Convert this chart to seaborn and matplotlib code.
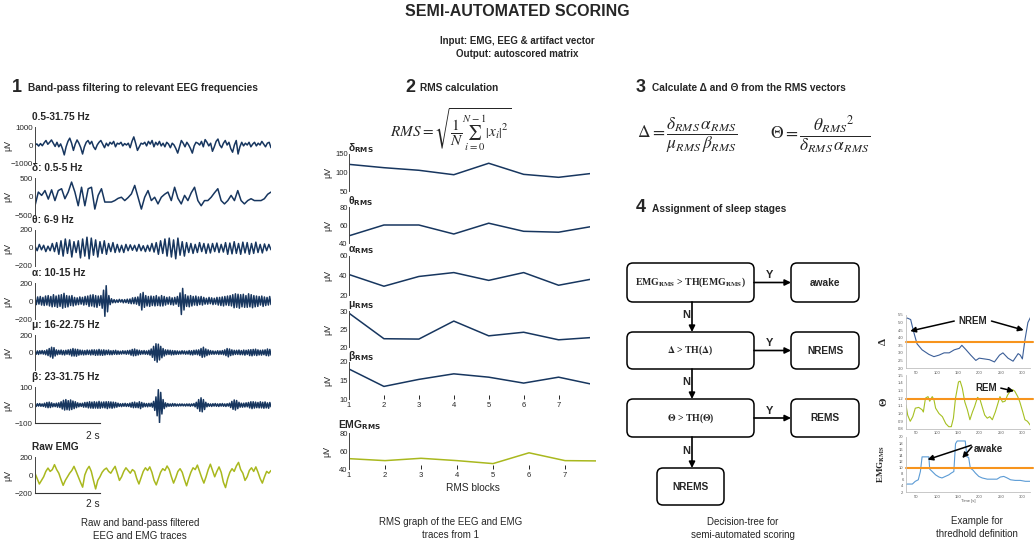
# overview figure for the semi-automated sleep scoring pipeline
import numpy as np
import matplotlib
matplotlib.use("Agg")
import matplotlib.pyplot as plt
from matplotlib.patches import FancyBboxPatch
from matplotlib.ticker import MultipleLocator, FormatStrFormatter
import seaborn as sns

# ---------------- values ----------------
TRACE_SECONDS = 7.26

broad_uv = [0, 60, -60, 80, -40, 120, 250, 40, 150, 280,
            100, -80, 150, -100, 60, -200, -550, -100, 200, 380,
            100, -300, 50, 280, 100, -150, -500, -100, 150, 250,
            50, 200, -100, -250, 0, 150, 250, 50, -150, 100,
            -50, 150, 50, 200, -100, 100, 50, 150, -50, 80,
            0, 100, -150, 200, 450, 100, -300, -100, 100, 50,
            150, -50, 200, 50, 250, -100, 150, 0, 200, -50,
            100, -100, 150, 50, -150, 100, 0, -200, -450, -100,
            250, 100, -100, 150, 0, -200, -450, -50, 150, 100,
            0, 200, -100, 300, 150, -50, 100, -350, -100, 200,
            330, 0, -150, 100, 250, 0, 150, -200, -400, 0,
            250, -500, -100, 150, -50, 100, 0, 150, -100, 50,
            150, -50, 100, 0, 200, 50, -100, 100, 150, -150]

delta_uv = [-250, 120, 30, 160, -70, 180, -110, 160, 210, -60,
            120, 390, 120, -250, 250, -250, 210, 250, -340, 30,
            210, -150, -150, -150, -110, -50, -20, -110, -30, 70,
            300, -20, -340, -20, 160, -110, -20, -200, -20, 60,
            120, -110, 250, -50, -200, 30, -110, 100, 250, -110,
            -250, -110, -110, -20, 100, 210, -110, -200, -110, 30,
            -110, 160, -110, -200, -110, -60, -110, -110, -110, -60,
            60, 120]

theta_uv = [20, -30, 40, -20, 30, -40, 20, -30, 50, -40, 60, -70,
            80, -90, 100, -60, 90, -100, 70, -50, 80, -110, 100, -90,
            120, -120, 110, -80, 90, -100, 70, -60, 80, -70,
            50, -40, 60, -50, 40, -45, 30, -50, 40, -30, 35,
            -25, 30, -35, 40, -30, 25, -40, 30, -35, 50, -45, 60, -70, 80, -60,
            100, -90, 110, -100, 90, -120, 110, -80, 70, -90, 60, -50,
            50, -60, 40, -50, 60, -40, 50, -60, 45, -55, 50, -40, 55, -50, 40, -45,
            60, -70, 55, -65, 70, -60, 50, -70, 65, -55, 60, -70, 50, -60, 65, -50,
            40, -55, 45, -30, 40, -20]

alpha_uv = [30, -40, 45, -35, 50, -45, 40, -50, 55, -45,
            60, -55, 50, -65, 70, -60, 55, -70, 65, -60,
            70, -80, 85, -70, 60, -65, 55, -50, 60, -55,
            40, -45, 35, -40, 45, -35, 40, -45, 50, -40,
            55, -60, 65, -55, 70, -65, 60, -70, 55, -50,
            60, -80, 120, -170, 170, -120, 60, -40, 25, -20,
            15, -18, 12, -15, 18, -12, 15, -20, 15, -18,
            20, -25, 22, -30, 35, -30, 40, -35, 45, -50,
            80, -100, 95, -70, 60, -55, 50, -60, 55, -50,
            50, -55, 60, -50, 45, -55, 60, -55, 50, -45,
            40, -35, 45, -40, 35, -45, 40, -35, 50, -60,
            90, -150, 140, -100, 70, -60, 55, -65, 60, -55,
            50, -45, 55, -50, 45, -40, 50, -45, 40, -35,
            30, -35, 40, -30, 35, -40, 30, -35, 40, -45,
            40, -50, 45, -55, 50, -45, 55, -50, 60, -55,
            70, -75, 80, -70, 75, -80, 70, -65, 75, -70,
            60, -70, 80, -65, 70, -75, 60, -65, 55, -60,
            50, -45, 55, -60, 45, -50, 40, -45, 50, -40]

mu_uv = [15, -20, 18, -22, 20, -15, 22, -18, 20, -25,
         30, -35, 45, -50, 60, -65, 55, -40, 30, -25,
         25, -20, 28, -25, 22, -28, 25, -20, 30, -25,
         35, -40, 45, -40, 38, -42, 35, -30, 28, -25,
         25, -28, 22, -25, 28, -22, 25, -28, 30, -25,
         30, -32, 28, -30, 35, -30, 28, -32, 30, -28,
         25, -22, 28, -25, 20, -25, 22, -20, 25, -22,
         18, -20, 15, -18, 20, -15, 18, -20, 22, -18,
         25, -30, 35, -38, 40, -35, 30, -28, 25, -22,
         20, -18, 22, -20, 18, -22, 25, -30, 40, -55,
         70, -90, 100, -110, 95, -85, 70, -60, 45, -40,
         30, -25, 28, -22, 25, -28, 22, -25, 20, -22,
         18, -20, 15, -18, 20, -16, 18, -20, 15, -18,
         22, -25, 20, -28, 25, -22, 28, -25, 30, -35,
         45, -55, 60, -50, 40, -35, 30, -25, 22, -20,
         18, -20, 15, -18, 20, -22, 18, -20, 22, -25,
         30, -35, 45, -50, 40, -35, 30, -28, 25, -22,
         25, -22, 28, -25, 22, -25, 28, -30, 25, -22,
         30, -35, 32, -38, 35, -30, 38, -35, 30, -28,
         25, -30, 28, -25, 30, -35, 40, -38, 35, -30]

beta_uv = [6, -8, 7, -6, 8, -7, 6, -8, 10, -12,
           14, -15, 16, -14, 12, -10, 8, -9, 10, -12,
           12, -14, 18, -22, 26, -28, 30, -26, 24, -28,
           28, -25, 22, -20, 18, -15, 12, -10, 9, -8,
           10, -12, 14, -12, 15, -16, 18, -17, 16, -18,
           18, -17, 16, -18, 20, -18, 16, -15, 17, -16,
           18, -20, 18, -16, 17, -18, 16, -15, 14, -12,
           10, -8, 7, -9, 8, -7, 9, -8, 7, -8,
           10, -12, 14, -15, 16, -14, 12, -15, 18, -20,
           14, -12, 10, -9, 8, -10, 9, -8, 10, -12,
           20, -30, 45, -60, 85, -98, 70, -50, 30, -20,
           12, -10, 8, -7, 6, -7, 8, -6, 7, -6,
           5, -6, 6, -5, 6, -5, 5, -6, 6, -5,
           6, -7, 6, -5, 8, -10, 15, -20, 30, -35,
           40, -38, 30, -25, 15, -10, 8, -7, 6, -8,
           7, -6, 8, -7, 6, -8, 7, -6, 8, -7,
           6, -8, 7, -6, 10, -14, 20, -24, 28, -28,
           25, -20, 15, -12, 10, -12, 10, -11, 12, -10,
           14, -16, 18, -20, 18, -17, 16, -15, 14, -16,
           18, -16, 15, -18, 17, -16, 12, -18, 14, -10]

emg_uv = [20, -40, -100, -60, -20, 40, 77, 40, 60, 115,
          60, 20, -50, -115, -60, -20, 20, 50, 96, 40,
          -20, -80, -135, 0, 60, 96, 40, -60, -155, -60,
          -20, 30, 60, 77, 40, 20, 60, 96, 20, -60,
          -20, 40, 80, 50, 20, 60, 40, -40, -100, -30,
          40, 80, 50, 90, 30, -60, -110, -40, 30, 70,
          50, 100, 60, -20, -90, -30, 40, 70, 30, -50,
          -120, -40, 30, 80, 60, 110, 40, -30, -90, -20,
          60, 120, 50, -20, 40, 90, 30, -80, -140, -40,
          30, 70, 40, 100, 140, 60, 20, -60, -20, 50,
          80, 40, 90, 30, -40, -90, -20, 40, 20, 50]

# RMS per block
rms_blocks = [1, 2, 3, 4, 5, 6, 7, 7.9]
emg_blocks = [1, 2, 3, 4, 5, 6, 7, 7.86]
delta_rms = [122, 113, 106, 94, 125, 95, 87, 97]
theta_rms = [48, 60, 60, 50, 62, 53, 52, 58]
alpha_rms = [41, 29, 39, 43, 35, 43, 30, 36]
mu_rms = [29.4, 22.3, 22.2, 27.2, 23.1, 24.1, 22.0, 22.6]
beta_rms = [18.1, 13.4, 15.3, 16.8, 15.9, 14.3, 15.9, 14.1]
emg_rms = [51.5, 49.3, 51.9, 49.3, 46, 58, 49.3, 49]

# threshold example (time in s)
d_time = [26, 29, 37, 44, 52, 64, 80, 92, 104, 116, 128, 140, 152, 158, 168,
          179, 191, 199, 211, 223, 235, 247, 255, 267, 279, 291, 296, 301, 307, 314, 322]
d_ratio = [5.25, 5.3, 5.2, 4.4, 3.6, 3.2, 2.9, 2.75, 2.85, 3.0, 3.0, 3.2, 3.3, 3.5, 3.2,
           2.85, 2.5, 2.65, 2.6, 2.55, 2.4, 2.85, 3.0, 2.65, 2.45, 2.95, 2.85, 2.6, 3.85, 5.0, 5.45]
t_time = [26, 30, 36, 42, 48, 56, 64, 67, 72, 78, 82, 88, 92, 96, 104, 112, 120, 127, 133, 138,
          143, 150, 154, 159, 165, 171, 177, 183, 188, 195, 201, 207, 212, 218, 224, 230, 237,
          242, 248, 254, 260, 266, 271, 278, 283, 290, 295, 302, 307, 313, 321]
t_ratio = [1.11, 0.98, 0.90, 0.96, 1.07, 1.08, 1.05, 1.02, 1.20, 1.22, 1.16, 1.22, 1.18, 1.07,
           1.00, 0.96, 0.87, 0.83, 0.83, 0.94, 1.20, 1.41, 1.42, 1.33, 1.15, 1.05, 0.92, 1.02,
           1.09, 1.21, 1.18, 1.07, 0.98, 0.94, 0.96, 0.92, 1.02, 1.11, 1.22, 1.15, 1.16, 1.24,
           1.28, 1.31, 1.29, 1.22, 1.15, 1.02, 0.92, 0.90, 0.84]
e_time = [26, 29, 41, 48, 55, 60, 64, 72, 80, 82, 88, 96, 104, 111, 119, 127, 133, 139, 143,
          147, 166, 170, 174, 178, 184, 190, 198, 206, 218, 229, 241, 249, 257, 265, 273, 284,
          296, 308, 320]
e_level = [4.5, 4.6, 4.6, 5.5, 6.0, 8.7, 13.5, 13.5, 13.5, 9.5, 8.7, 7.6, 6.9, 6.6, 7.1, 7.6,
           8.2, 8.7, 17.8, 18.7, 18.7, 13.5, 13.3, 9.8, 9.2, 8.2, 7.1, 6.6, 6.2, 6.2, 6.2, 6.9,
           7.1, 6.6, 6.0, 5.8, 5.8, 5.5, 5.5]
TH_DELTA = 3.75
TH_THETA = 1.19
TH_EMG = 10

# ---------------- style ----------------
NAVY = "#17365f"
OLIVE = "#a9b81e"
ORANGE = "#f7941d"
XL_BLUE = "#3c5f98"
XL_GREEN = "#a6c021"
XL_LIGHT = "#5b9bd5"

sns.set_theme(style="white")
plt.rcParams["font.family"] = ["Liberation Sans", "DejaVu Sans"]

W, H = 1034, 542
fig = plt.figure(figsize=(W / 100, H / 100), dpi=100)

ov = fig.add_axes([0, 0, 1, 1], zorder=5)
ov.set_xlim(0, W)
ov.set_ylim(H, 0)
ov.axis("off")
ov.patch.set_alpha(0)


def px_axes(left, top, right, bottom):
    ax = fig.add_axes([left / W, 1 - bottom / H, (right - left) / W, (bottom - top) / H])
    ax.patch.set_visible(False)
    return ax


def label(x, y, s, size=7, weight="normal", ha="left", **kw):
    ov.text(x, y, s, fontsize=size, fontweight=weight, ha=ha, va="center", **kw)


# ---------------- titles ----------------
label(517, 12, "SEMI-AUTOMATED SCORING", 11.5, "bold", "center")
label(517, 41, "Input: EMG, EEG & artifact vector", 7, "bold", "center")
label(517, 54, "Output: autoscored matrix", 7, "bold", "center")

label(12, 87, "1", 13, "bold")
label(28, 88, "Band-pass filtering to relevant EEG frequencies", 7.3, "bold")
label(405, 87, "2", 13, "bold")
label(420, 88, "RMS calculation", 7.3, "bold")
label(636, 87, "3", 13, "bold")
label(652, 88, "Calculate \u0394 and \u0398 from the RMS vectors", 7.3, "bold")
label(636, 208, "4", 13, "bold")
label(652, 209, "Assignment of sleep stages", 7.3, "bold")


# ---------------- panel 1: traces ----------------
def trace(top, bottom, values, lim, ticklabels, color, name, bar=False):
    ax = px_axes(35, top, 271, bottom)
    t = np.arange(len(values)) * TRACE_SECONDS / (len(values) - 1)
    sns.lineplot(x=t, y=values, ax=ax, color=color, linewidth=1.1, estimator=None)
    ax.set_xlim(0, TRACE_SECONDS)
    ax.set_ylim(-lim, lim)
    ax.set_yticks([-lim, 0, lim])
    ax.set_yticklabels(ticklabels)
    ax.set_xticks([])
    ax.set_xlabel("")
    for s in ["top", "right"]:
        ax.spines[s].set_visible(False)
    if bar:
        ax.spines["bottom"].set_bounds(0, 2)
        ax.spines["bottom"].set_color("#333333")
        ax.spines["bottom"].set_linewidth(0.8)
    else:
        ax.spines["bottom"].set_visible(False)
    ax.spines["left"].set_color("#444444")
    ax.spines["left"].set_linewidth(0.7)
    ax.tick_params(axis="y", direction="in", length=2.5, width=0.7, labelsize=5.8, pad=1.5)
    ax.set_ylabel("\u03bcV", fontsize=6.5, labelpad=0)
    ax.yaxis.set_label_coords(-23 / 236, 0.5)
    label(32, top - 10, name, 7.3, "bold")
    return ax


M = "\u2212"
trace(127, 163, broad_uv, 1000, [M + "1000", "0", "1000"], NAVY, "0.5-31.75 Hz")
trace(178, 215, delta_uv, 500, [M + "500", "0", "500"], NAVY, "\u03b4: 0.5-5 Hz")
trace(230, 266, theta_uv, 200, [M + "200", "0", "200"], NAVY, "\u03b8: 6-9 Hz")
trace(283, 319, alpha_uv, 200, [M + "200", "0", "200"], NAVY, "\u03b1: 10-15 Hz")
trace(335, 370, mu_uv, 200, ["", "0", "200"], NAVY, "\u03bc: 16-22.75 Hz")
trace(387, 423, beta_uv, 100, [M + "100", "0", "100"], NAVY, "\u03b2: 23-31.75 Hz", bar=True)
trace(457, 493, emg_uv, 200, [M + "200", "0", "200"], OLIVE, "Raw EMG", bar=True)
label(100, 436, "2 s", 7.3, ha="right")
label(100, 504, "2 s", 7.3, ha="right")
label(140, 523, "Raw and band-pass filtered", 7, ha="center")
label(140, 536, "EEG and EMG traces", 7, ha="center")


# ---------------- panel 2: RMS ----------------
label(451, 130, r"$RMS=\sqrt{\dfrac{1}{N}\sum_{i=0}^{N-1}\left|x_i\right|^2}$", 11,
      ha="center", math_fontfamily="stix")


def rms_axes(top, bottom, right, blocks, values, lo, hi, color, name, name_x, name_y, with_x):
    ax = px_axes(349, top, right, bottom)
    sns.lineplot(x=blocks, y=values, ax=ax, color=color, linewidth=1.1, estimator=None)
    ax.set_xlim(1, blocks[-1])
    ax.set_ylim(lo, hi)
    ax.set_yticks([lo, (lo + hi) / 2, hi])
    ax.yaxis.set_major_formatter(FormatStrFormatter("%d"))
    for s in ["top", "right", "bottom"]:
        ax.spines[s].set_visible(False)
    ax.spines["left"].set_color("#444444")
    ax.spines["left"].set_linewidth(0.7)
    ax.tick_params(axis="y", direction="in", length=2.5, width=0.7, labelsize=5.5, pad=1)
    if with_x:
        ax.set_xticks([1, 2, 3, 4, 5, 6, 7])
        ax.tick_params(axis="x", direction="in", length=3, width=0.7, labelsize=5.5, pad=2,
                       bottom=True)
    else:
        ax.set_xticks([])
    ax.set_xlabel("")
    ax.set_ylabel("\u03bcV", fontsize=6.5)
    ax.yaxis.set_label_coords(-17 / 241, 0.5)
    ov.text(name_x, name_y, name, fontsize=7.5, fontweight="bold", va="center",
            math_fontfamily="dejavusans")
    return ax


SUB = r"$_{\mathbf{RMS}}$"
rms_axes(154, 191, 590, rms_blocks, delta_rms, 50, 150, NAVY, "\u03b4" + SUB, 348, 148, False)
rms_axes(207, 243, 590, rms_blocks, theta_rms, 40, 80, NAVY, "\u03b8" + SUB, 348, 201, False)
rms_axes(256, 295, 590, rms_blocks, alpha_rms, 20, 60, NAVY, "\u03b1" + SUB, 348, 250, False)
rms_axes(311, 347, 590, rms_blocks, mu_rms, 20, 30, NAVY, "\u03bc" + SUB, 348, 305, False)
rms_axes(362, 399, 590, rms_blocks, beta_rms, 10, 20, NAVY, "\u03b2" + SUB, 348, 356, True)
ax_e = rms_axes(433, 469, 596, emg_blocks, emg_rms, 40, 80, OLIVE, "EMG" + SUB, 338, 425, True)
ax_e.set_xlabel("RMS blocks", fontsize=7.3, labelpad=3)
label(451, 522, "RMS graph of the EEG and EMG", 7, ha="center")
label(451, 535, "traces from 1", 7, ha="center")


# ---------------- panel 3: ratios ----------------
label(687, 135, r"$\Delta=\dfrac{\delta_{RMS}\,\alpha_{RMS}}{\mu_{RMS}\,\beta_{RMS}}$", 12.5,
      ha="center", math_fontfamily="stix")
label(820, 135, r"$\Theta=\dfrac{{\theta_{RMS}}^{2}}{\delta_{RMS}\,\alpha_{RMS}}$", 12.5,
      ha="center", math_fontfamily="stix")


# ---------------- panel 4: decision tree ----------------
def box(x0, y0, x1, y1, text, serif):
    ov.add_patch(FancyBboxPatch((x0, y0), x1 - x0, y1 - y0,
                                boxstyle="round,pad=0,rounding_size=6",
                                fc="white", ec="black", lw=1.1, zorder=2))
    if serif:
        ov.text((x0 + x1) / 2, (y0 + y1) / 2, text, fontsize=7, fontweight="bold",
                family="Liberation Serif", math_fontfamily="stix", ha="center", va="center",
                zorder=3)
    else:
        ov.text((x0 + x1) / 2, (y0 + y1) / 2, text, fontsize=7.3, fontweight="bold",
                ha="center", va="center", zorder=3)


def arrow(x0, y0, x1, y1):
    ov.annotate("", xy=(x1, y1), xytext=(x0, y0),
                arrowprops=dict(arrowstyle="-|>", color="black", lw=1.2,
                                mutation_scale=9, shrinkA=0, shrinkB=0))


rows = [(263, 302), (332, 369), (399, 437)]
conds = [r"EMG$_{\mathbf{RMS}}$ > TH(EMG$_{\mathbf{RMS}}$)",
         r"$\mathbf{\Delta}$ > TH($\mathbf{\Delta}$)",
         r"$\mathbf{\Theta}$ > TH($\mathbf{\Theta}$)"]
results = ["awake", "NREMS", "REMS"]
for (y0, y1), cond, res in zip(rows, conds, results):
    yc = (y0 + y1) / 2
    box(627, y0, 754, y1, cond, True)
    box(791, y0, 859, y1, res, False)
    arrow(754, yc, 791, yc)
    label(770, yc - 7, "Y", 8, "bold", "center")
box(657, 468, 724, 505, "NREMS", False)
for y0, y1 in [(302, 332), (369, 399), (437, 468)]:
    arrow(692, y0, 692, y1)
    label(686, (y0 + y1) / 2 - 2, "N", 8, "bold", "center")
label(743, 522, "Decision-tree for", 7, ha="center")
label(743, 535, "semi-automated scoring", 7, ha="center")


# ---------------- panel 5: threshold example ----------------
def excel_axes(top, bottom, times, values, color, th, lo, hi, step, fmt):
    ax = px_axes(906, top, 1030, bottom)
    sns.lineplot(x=times, y=values, ax=ax, color=color, linewidth=0.8, estimator=None)
    ax.axhline(th, color=ORANGE, lw=1.5, xmin=0, xmax=1.025, clip_on=False)
    ax.set_xlim(26, 319)
    ax.set_ylim(lo, hi)
    ax.yaxis.set_major_locator(MultipleLocator(step))
    ax.yaxis.set_major_formatter(FormatStrFormatter(fmt))
    ax.set_xticks([50, 100, 150, 200, 250, 300])
    for s in ["top", "right"]:
        ax.spines[s].set_visible(False)
    for s in ["left", "bottom"]:
        ax.spines[s].set_color("#bfbfbf")
        ax.spines[s].set_linewidth(0.6)
    ax.tick_params(labelsize=3, colors="#595959", length=1, width=0.4, pad=0.8)
    ax.set_xlabel("")
    return ax


arw = dict(arrowstyle="-|>", color="black", lw=1.1, mutation_scale=8, shrinkA=0, shrinkB=0)

ax_d = excel_axes(315, 368, d_time, d_ratio, XL_BLUE, TH_DELTA, 2.0, 5.5, 0.5, "%.1f")
ax_d.set_ylabel("\u0394", fontsize=8, fontweight="bold", family="Liberation Serif")
ax_d.yaxis.set_label_coords(-0.15, 0.5)
ax_d.text(184, 5.1, "NREM", fontsize=7, fontweight="bold", ha="center", va="center")
ax_d.annotate("", xy=(36, 4.44), xytext=(140, 5.1), arrowprops=arw, annotation_clip=False)
ax_d.annotate("", xy=(304, 4.5), xytext=(228, 5.1), arrowprops=arw, annotation_clip=False)

ax_t = excel_axes(375, 429, t_time, t_ratio, XL_GREEN, TH_THETA, 0.8, 1.5, 0.1, "%.1f")
ax_t.set_ylabel("\u0398", fontsize=8, fontweight="bold", family="Liberation Serif")
ax_t.yaxis.set_label_coords(-0.14, 0.5)
ax_t.text(215, 1.33, "REM", fontsize=7, fontweight="bold", ha="center", va="center")
ax_t.annotate("", xy=(281, 1.29), xytext=(250, 1.33), arrowprops=arw, annotation_clip=False)

ax_m = excel_axes(437, 492, e_time, e_level, XL_LIGHT, TH_EMG, 2, 20, 2, "%d")
ax_m.set_ylabel(r"EMG$_{\mathbf{RMS}}$", fontsize=6.5, fontweight="bold",
                family="Liberation Serif", math_fontfamily="stix")
ax_m.yaxis.set_label_coords(-0.15, 0.5)
ax_m.set_xlabel("Time [s]", fontsize=3, color="#595959", labelpad=0.5)
ax_m.text(185, 16.2, "awake", fontsize=7, fontweight="bold", ha="left", va="center")
ax_m.annotate("", xy=(77, 12.6), xytext=(180, 17.3), arrowprops=arw, annotation_clip=False)
ax_m.annotate("", xy=(159, 13.1), xytext=(182, 16.8), arrowprops=arw, annotation_clip=False)

label(977, 521, "Example for", 7, ha="center")
label(977, 534, "thredhold definition", 7, ha="center")

fig.savefig("out.png", dpi=100)
